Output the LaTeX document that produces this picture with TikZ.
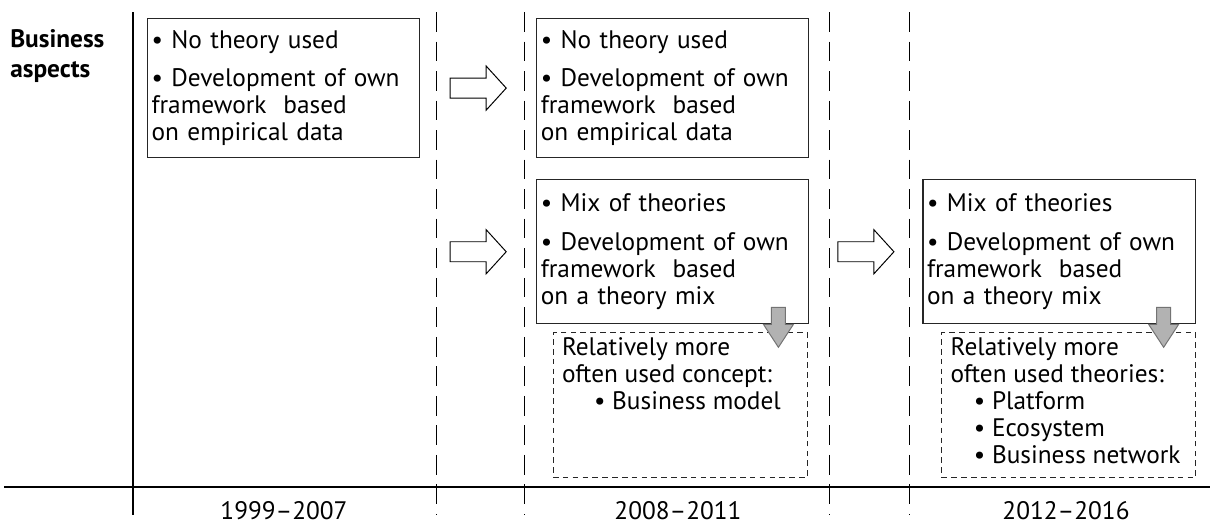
\documentclass[tikz,border=0pt]{standalone}
\usepackage{fontspec}
\setmainfont{PT Sans}
\usetikzlibrary{positioning, calc}
\newcommand{\boxfont}{\fontsize{18}{19.2}\selectfont}
\newcommand{\notetext}[2]{\parbox[c][#1][t]{5.9cm}{\raggedright #2}}
\tikzset{
    textbox/.style = {rectangle, draw=black!85, line width=0.8pt, minimum width=6.8cm, minimum height=3.475cm, text width=6.6cm, inner xsep=0.1cm, align=left, font=\boxfont},
    notebox/.style = {rectangle, draw=black!85, line width=0.6pt, dash pattern=on 4pt off 3pt, inner xsep=0.225cm, inner ysep=0.13cm, font=\boxfont},
    period/.style = {line width=0.65pt, dash pattern=on 14pt off 7pt},
    axis/.style = {line width=0.9pt},
    hollowarrow/.pic = {\draw[line width=0.7pt, fill=white] (-28,-10) -- (8,-10) -- (8,-22) -- (28,0) -- (8,22) -- (8,10) -- (-28,10) -- cycle;},
    grayarrow/.pic = {\draw[line width=0.7pt, draw=black!55, fill=black!30] (-7,0) -- (7,0) -- (7,17) -- (15,17) -- (0,40) -- (-15,17) -- (-7,17) -- cycle;}
}

\begin{document}
\begin{tikzpicture}[x=0.025cm, y=-0.025cm]
\useasboundingbox (0,0) rectangle (1210,527);

% time axis and period borders
\draw [axis] (133,12) -- (133,515);
\draw [axis] (4,487) -- (1210,487);
\foreach \x in {436,524,829,909}
    \draw [period] (\x,12) -- (\x,515);

\node (aspects) [anchor=north west, inner sep=0pt, font=\boxfont\bfseries, align=left] at (10,29) {Business\\[2pt]aspects};

\node (box1) [textbox, anchor=north west] at (147,18) {\textbullet\ No theory used\\[8pt]\textbullet\ Development of own\\framework~ based\\on empirical data};
\node (box2) [textbox, right=2.9cm of box1] {\textbullet\ No theory used\\[8pt]\textbullet\ Development of own\\framework~ based\\on empirical data};
\node (box3) [textbox, below=0.525cm of box2, minimum height=3.6cm] {\textbullet\ Mix of theories\\[8pt]\textbullet\ Development of own\\framework~ based\\on a theory mix};
\node (box4) [textbox, right=2.825cm of box3, minimum height=3.6cm] {\textbullet\ Mix of theories\\[8pt]\textbullet\ Development of own\\framework~ based\\on a theory mix};

\node (note1) [notebox, below=0.2cm of box3, xshift=0.18cm] {\notetext{3.365cm}{Relatively more\\often used concept:\\\hspace*{0.8cm}\textbullet\ Business model}};
\node (note2) [notebox, below=0.2cm of box4, xshift=0.24cm] {\notetext{3.365cm}{Relatively more\\often used theories:\\\hspace*{0.58cm}\textbullet\ Platform\\\hspace*{0.58cm}\textbullet\ Ecosystem\\\hspace*{0.58cm}\textbullet\ Business network}};

\node (year1) [font=\boxfont] at (284,511) {1999--2007};
\node (year2) [font=\boxfont] at (678,511) {2008--2011};
\node (year3) [font=\boxfont] at (1066,511) {2012--2016};

\pic at ($(box1.east)!0.5!(box2.west)$) {hollowarrow};
\pic at ($(box1.east |- box3.west)!0.5!(box3.west)$) {hollowarrow};
\pic at ($(box3.east)!0.5!(box4.west)$) {hollowarrow};
\pic [shift={(-31,-17)}] at (box3.south east) {grayarrow};
\pic [shift={(-32,-17)}] at (box4.south east) {grayarrow};
\end{tikzpicture}
\end{document}
